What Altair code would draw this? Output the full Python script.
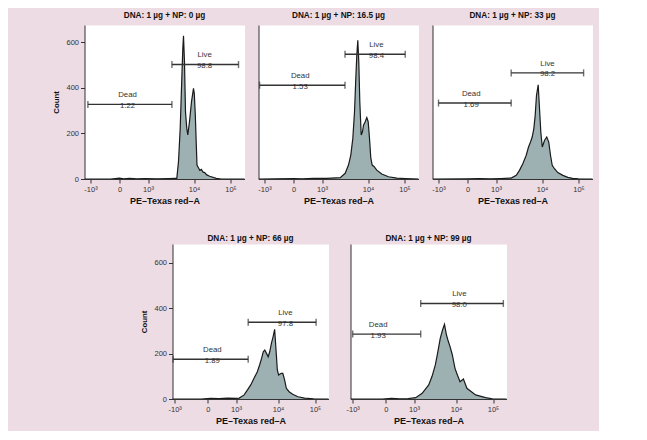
import altair as alt
import pandas as pd

# ---------------- data ----------------
TITLES = ["DNA: 1 µg + NP: 0 µg", "DNA: 1 µg + NP: 16.5 µg", "DNA: 1 µg + NP: 33 µg",
          "DNA: 1 µg + NP: 66 µg", "DNA: 1 µg + NP: 99 µg"]

# x positions are in "decade" units of the biexponential axis:
# -1 = -10^3, 0 = 0, 1 = 10^3, 2 = 10^4, 3 = 10^5
TICK_DECADES = [-1, 0, 1, 2, 3]
TICK_LABELS = ["-10³", "0", "10³", "10⁴", "10⁵"]
Y_TICKS = [0, 200, 400, 600]

P1_X = [-1.2, -0.3, 0.0, 0.15, 0.35, 0.6, 0.9, 1.2, 1.45, 1.6, 1.626, 1.663, 1.70, 1.735, 1.757, 1.772,
        1.793, 1.815, 1.843, 1.865, 1.902, 1.946, 1.989, 2.008, 2.036, 2.063, 2.082, 2.129, 2.16, 2.2,
        2.25, 2.293, 2.35, 2.43, 2.61, 2.75, 3.4]
P1_Y = [0, 0, 4, 1, 3, 1, 2, 1, 2, 3, 3, 76, 222, 441, 572, 628, 514, 295, 222, 193, 251, 339, 397, 375,
        280, 149, 61, 47, 38, 42, 30, 28, 18, 12, 3, 0, 0]

P2_X = [-1.2, 0.0, 0.3, 0.7, 1.1, 1.396, 1.504, 1.576, 1.626, 1.67, 1.707, 1.735, 1.757, 1.778, 1.80,
        1.822, 1.852, 1.88, 1.902, 1.939, 1.974, 2.005, 2.041, 2.077, 2.115, 2.17, 2.24, 2.378, 2.56,
        2.79, 3.02, 3.4]
P2_Y = [0, 2, 1, 3, 3, 6, 25, 61, 105, 178, 295, 441, 543, 608, 514, 339, 193, 207, 236, 251, 269, 251,
        178, 91, 61, 54, 39, 22, 10, 4, 2, 0]

P3_X = [-1.2, 0.0, 0.4, 0.8, 1.1, 1.33, 1.44, 1.51, 1.583, 1.657, 1.707, 1.75, 1.787, 1.822, 1.852, 1.88,
        1.917, 1.946, 1.974, 2.008, 2.068, 2.13, 2.185, 2.233, 2.28, 2.342, 2.433, 2.57, 2.707, 2.84, 3.0,
        3.4]
P3_Y = [0, 1, 2, 1, 2, 4, 16, 38, 67, 104, 140, 162, 184, 220, 279, 366, 413, 308, 206, 140, 169, 184,
        162, 104, 60, 45, 28, 16, 7, 3, 1, 0]

P4_X = [-1.2, -0.2, 0.1, 0.4, 0.7, 1.0, 1.077, 1.194, 1.274, 1.351, 1.429, 1.508, 1.562, 1.609, 1.649,
        1.686, 1.726, 1.766, 1.803, 1.843, 1.883, 1.92, 1.953, 1.984, 2.017, 2.085, 2.13, 2.178, 2.226,
        2.30, 2.397, 2.54, 2.72, 2.96, 3.4]
P4_Y = [0, 0, 3, 2, 4, 3, 4, 18, 40, 62, 91, 120, 150, 179, 208, 216, 201, 186, 208, 245, 274, 307, 216,
        128, 106, 113, 113, 84, 47, 32, 21, 10, 4, 1, 0]

P5_X = [-1.2, -0.1, 0.2, 0.5, 0.8, 1.04, 1.194, 1.35, 1.43, 1.508, 1.56, 1.625, 1.679, 1.726, 1.773,
        1.82, 1.86, 1.913, 1.976, 2.04, 2.11, 2.2, 2.295, 2.53, 2.80, 2.98, 3.4]
P5_Y = [0, 0, 3, 1, 2, 6, 25, 62, 100, 150, 200, 267, 304, 329, 282, 252, 230, 194, 135, 105, 76, 88,
        47, 18, 6, 1, 0]

HIST_X = [P1_X, P2_X, P3_X, P4_X, P5_X]
HIST_Y = [P1_Y, P2_Y, P3_Y, P4_Y, P5_Y]

DEAD_FROM = [-1.09, -1.17, -1.0, -1.05, -1.0]
DEAD_TO = [1.52, 1.50, 1.33, 1.29, 1.16]
DEAD_LEVEL = [327, 411, 333, 175, 286]
LIVE_FROM = [1.52, 1.50, 1.33, 1.29, 1.16]
LIVE_TO = [3.22, 3.02, 3.14, 3.03, 3.28]
LIVE_LEVEL = [502, 547, 465, 338, 421]
DEAD_PCT = ["1.22", "1.53", "1.69", "1.89", "1.93"]
LIVE_PCT = ["98.8", "98.4", "98.2", "97.8", "98.0"]
DEAD_LABEL_X = [0.28, 0.235, 0.13, 0.16, -0.23]
LIVE_LABEL_X = [2.29, 2.23, 2.15, 2.2, 2.09]

# ---------------- styling / layout ----------------
FONT = "Liberation Sans"
BG = "#EEDCE5"
FILL = "#9DB1B3"
INK = "#1A1A1A"

# biexponential display transform: decade knots -> display units (piecewise linear)
TOP = dict(w=160, h=154, kd=[-1.207, -1, 0, 1, 2, 3, 3.384], ku=[0, 6, 35, 63.5, 109.5, 146, 160],
           ymax=675, toff=5)
BOT = dict(w=156, h=155, kd=[-1.067, -1, 0, 1, 2, 3, 3.365], ku=[0, 2.2, 35.3, 63.5, 105.5, 142.5, 156],
           ymax=683, toff=1)
BOTTOM_INDENT = 66  # blank space left of the centred lower row


def biex(field, kd, ku):
    segs = []
    for j in range(len(kd) - 1):
        slope = (ku[j + 1] - ku[j]) / (kd[j + 1] - kd[j])
        segs.append("(%g + (datum['%s'] - (%g)) * %g)" % (ku[j], field, kd[j], slope))
    expr = segs[-1]
    for j in range(len(kd) - 2, 0, -1):
        expr = "datum['%s'] < %g ? %s : %s" % (field, kd[j], segs[j - 1], expr)
    return expr


def panel(i, geo, show_y):
    kd, ku = geo["kd"], geo["ku"]
    tick_u = [ku[kd.index(t)] for t in TICK_DECADES]
    label_expr = ""
    for v, lab in zip(tick_u, TICK_LABELS):
        label_expr += "abs(datum.value - %g) < 0.5 ? '%s' : " % (v, lab)
    label_expr += "''"
    xs = alt.Scale(domain=[ku[0], ku[-1]], nice=False, zero=False)
    ys = alt.Scale(domain=[0, geo["ymax"]], nice=False)
    xaxis = alt.Axis(values=tick_u, tickCount=20, labelExpr=label_expr, title="PE–Texas red–A",
                     tickSize=4, labelPadding=2, titlePadding=4, labelFlush=False, labelOverlap=False)
    if show_y:
        yaxis = alt.Axis(values=Y_TICKS, tickCount=20, title="Count", tickSize=4, labelPadding=2,
                         titlePadding=5.5, titleFontSize=7.8, labelOverlap=False)
    else:
        yaxis = alt.Axis(values=Y_TICKS, title=None, labels=False, ticks=False)

    hist = pd.DataFrame({"x": HIST_X[i], "count": HIST_Y[i]})
    gates = pd.DataFrame({
        "x0": [DEAD_FROM[i], LIVE_FROM[i]],
        "x1": [DEAD_TO[i], LIVE_TO[i]],
        "lvl": [DEAD_LEVEL[i], LIVE_LEVEL[i]],
        "lx": [DEAD_LABEL_X[i], LIVE_LABEL_X[i]],
        "txt": ["Dead\n" + DEAD_PCT[i], "Live\n" + LIVE_PCT[i]],
    })
    caps = pd.DataFrame({
        "x": [DEAD_FROM[i], DEAD_TO[i], LIVE_FROM[i], LIVE_TO[i]],
        "lvl": [DEAD_LEVEL[i], DEAD_LEVEL[i], LIVE_LEVEL[i], LIVE_LEVEL[i]],
    })

    base_h = alt.Chart(hist).transform_calculate(u=biex("x", kd, ku))
    area = base_h.mark_area(color=FILL, clip=True, opacity=1).encode(
        x=alt.X("u:Q", scale=xs, axis=xaxis),
        y=alt.Y("count:Q", scale=ys, axis=yaxis),
    )
    line = base_h.mark_line(color=INK, strokeWidth=1.2, clip=True).encode(
        x=alt.X("u:Q", scale=xs), y=alt.Y("count:Q", scale=ys))

    g = alt.Chart(gates).transform_calculate(u0=biex("x0", kd, ku), u1=biex("x1", kd, ku),
                                             ul=biex("lx", kd, ku))
    rules = g.mark_rule(color="#333333", strokeWidth=1.4).encode(
        x=alt.X("u0:Q", scale=xs), x2="u1:Q", y=alt.Y("lvl:Q", scale=ys))
    texts = g.mark_text(font=FONT, fontSize=7.8, color="#333333", baseline="bottom",
                        lineBreak="\n", lineHeight=10.5, dy=-5).encode(
        x=alt.X("ul:Q", scale=xs), y=alt.Y("lvl:Q", scale=ys), text="txt:N")
    ticks = alt.Chart(caps).transform_calculate(u=biex("x", kd, ku)).mark_tick(
        color="#333333", orient="vertical", size=7, thickness=1.4).encode(
        x=alt.X("u:Q", scale=xs), y=alt.Y("lvl:Q", scale=ys))

    return alt.layer(area, line, rules, ticks, texts).properties(
        width=geo["w"], height=geo["h"],
        title=alt.TitleParams(TITLES[i], font=FONT, fontSize=8.2, fontWeight="bold", color="#111111",
                              offset=geo["toff"], anchor="middle"),
    )


spacer = alt.Chart(pd.DataFrame({"a": [0]})).mark_point(opacity=0).encode(
    x=alt.X("a:Q", axis=None), y=alt.Y("a:Q", axis=None)
).properties(width=BOTTOM_INDENT, height=BOT["h"],
             view=alt.ViewBackground(fill="transparent", stroke="transparent"))

top = alt.hconcat(panel(0, TOP, True), panel(1, TOP, False), panel(2, TOP, False),
                  spacing=14, bounds="flush")
bottom = alt.hconcat(spacer, panel(3, BOT, True), panel(4, BOT, False), spacing=22, bounds="flush")

chart = alt.vconcat(top, bottom, spacing=27).configure(
    background=BG, padding={"left": 43.5, "top": 2, "right": 5, "bottom": 5}
).configure_view(
    fill="white", stroke="transparent"
).configure_axis(
    grid=False, labelFont=FONT, labelFontSize=7.5, labelColor="#333333", titleFont=FONT,
    titleFontSize=9, titleFontWeight="bold", titleColor="#111111", domainColor="#333333",
    tickColor="#333333", domainWidth=1, tickWidth=1, labelOverlap=False
)

chart.save("out.html", embed_options={"renderer": "svg", "actions": False})
